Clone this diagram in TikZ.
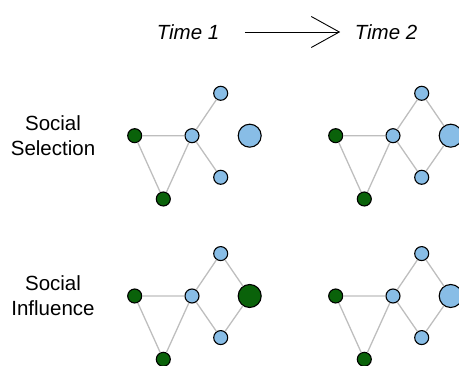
\documentclass[tikz,border=0pt]{standalone}
\usepackage{fontspec}
\setmainfont{Liberation Sans}
\usetikzlibrary{arrows.meta}
\definecolor{netgreen}{RGB}{10,98,10}
\definecolor{netblue}{RGB}{136,189,230}
\definecolor{tiegray}{RGB}{190,190,190}
\tikzset{
  actor/.style={circle,draw=black,line width=1.1pt,inner sep=0pt,minimum size=14pt},
  grn/.style={actor,fill=netgreen},
  blu/.style={actor,fill=netblue},
  bigactor/.style={minimum size=23pt},
  tie/.style={draw=tiegray,line width=1.3pt},
}
\begin{document}
\begin{tikzpicture}[x=1pt,y=-1pt,font=\fontsize{20.5}{25}\selectfont]
\useasboundingbox (0,0) rectangle (459,366);
% header
\node (t1) at (188,32) {\itshape Time 1};
\node (t2) at (386,32) {\itshape Time 2};
\draw[line width=0.9pt,-{Straight Barb[length=28pt,width=31pt]},
  shorten <=22pt,shorten >=11pt] (t1.east) -- (t2.west);
% row labels
\node[align=center] (sel) at (53,136) {Social\\Selection};
\node[align=center] (infl) at (53,296) {Social\\Influence};
% the four networks
\foreach \p/\ox/\oy/\bigfill in {1/134.7/135.7/blu,2/335.7/135.7/blu,
    3/134.7/296/grn,4/335.7/296/blu}{
  \begin{scope}[shift={(\ox,\oy)}]
    \node[grn] (p\p gl) at (0,0) {};
    \node[grn] (p\p gb) at (28.6,63.3) {};
    \node[blu] (p\p bc) at (57.3,0) {};
    \node[blu] (p\p bt) at (86,-42.4) {};
    \node[blu] (p\p bb) at (86,41.6) {};
    \node[\bigfill,bigactor] (p\p big) at (115,0) {};
    \draw[tie] (p\p gl) -- (p\p bc) -- (p\p gb) -- (p\p gl);
    \draw[tie] (p\p bt) -- (p\p bc) -- (p\p bb);
  \end{scope}
}
% ties that exist at time 2
\foreach \p in {2,3,4}
  \draw[tie] (p\p bt) -- (p\p big) -- (p\p bb);
\end{tikzpicture}
\end{document}
